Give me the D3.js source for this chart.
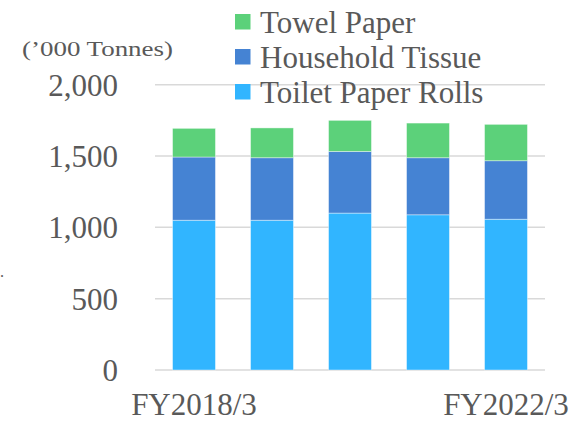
<!DOCTYPE html>
<html>
<head>
<meta charset="utf-8">
<script src="https://cdn.jsdelivr.net/npm/d3@7"></script>
<style>
  body { margin: 0; background: #fff; }
  svg text { font-family: "Liberation Serif", "Times New Roman", serif !important; fill: #595959; }
</style>
</head>
<body>
<script>
// chart data
var years = ["FY2018/3", "FY2019/3", "FY2020/3", "FY2021/3", "FY2022/3"];
var shownYears = ["FY2018/3", "FY2022/3"];
var toiletRolls = [1050, 1050, 1100, 1088, 1057];
var householdTissue = [443, 438, 432, 400, 410];
var towelPaper = [201, 209, 218, 243, 255];
var yTicks = [0, 500, 1000, 1500, 2000];

var seriesNames = ["Toilet Paper Rolls", "Household Tissue", "Towel Paper"];
var seriesColors = ["#31b5ff", "#4583d3", "#5cd17a"];

function draw_chart() {
    var width = 574;
    var height = 421;
    var serif = "'Liberation Serif', 'Times New Roman', serif";

    var svg = d3.select("body").append("svg")
                .attr("width", width)
                .attr("height", height);

    var x = d3.scaleBand()
              .domain(years)
              .range([155, 545])
              .paddingInner(0.45)
              .paddingOuter(0.225);

    var y = d3.scaleLinear()
              .domain([0, 2000])
              .range([370, 84.7]);

    // gridlines
    svg.selectAll("line.grid")
        .data(yTicks)
        .enter()
        .append("line")
        .attr("class", "grid")
        .attr("x1", 155)
        .attr("x2", 545)
        .attr("y1", function(d) { return y(d); })
        .attr("y2", function(d) { return y(d); })
        .attr("stroke", "#d9d9d9")
        .attr("stroke-width", 1.5);

    // y tick labels
    var yAxis = d3.axisLeft(y)
                  .tickValues(yTicks)
                  .tickFormat(d3.format(","))
                  .tickSize(0)
                  .tickPadding(0);
    var yg = svg.append("g")
                .attr("transform", "translate(118,0)")
                .call(yAxis)
                .attr("font-family", serif)
                .attr("font-size", 31);
    yg.select(".domain").remove();
    yg.selectAll("text")
      .style("font-family", serif)
      .style("font-size", "31px")
      .attr("dy", "0.34em");

    // x labels (only first and last)
    var xAxis = d3.axisBottom(x)
                  .tickValues(shownYears)
                  .tickSize(0)
                  .tickPadding(0);
    var xg = svg.append("g")
                .attr("transform", "translate(0,415)")
                .call(xAxis)
                .attr("font-family", serif)
                .attr("font-size", 31);
    xg.select(".domain").remove();
    xg.selectAll("text")
      .style("font-family", serif)
      .style("font-size", "31px")
      .attr("y", 0)
      .attr("dy", "0");

    // stacked bars
    var rows = years.map(function(yr, i) {
        return {
            year: yr,
            "Toilet Paper Rolls": toiletRolls[i],
            "Household Tissue": householdTissue[i],
            "Towel Paper": towelPaper[i]
        };
    });
    var stack = d3.stack().keys(seriesNames)(rows);

    svg.selectAll("g.series")
        .data(stack)
        .enter()
        .append("g")
        .attr("class", "series")
        .attr("fill", function(d, i) { return seriesColors[i]; })
        .selectAll("rect")
        .data(function(d) { return d; })
        .enter()
        .append("rect")
        .attr("x", function(d) { return x(d.data.year); })
        .attr("width", x.bandwidth())
        .attr("y", function(d) { return y(d[1]); })
        .attr("height", function(d) { return y(d[0]) - y(d[1]); })
        .attr("stroke", "rgba(255,255,255,0.5)")
        .attr("stroke-width", 0.8);

    // unit label
    svg.append("text")
        .attr("x", 22)
        .attr("y", 56)
        .attr("textLength", 151)
        .attr("lengthAdjust", "spacingAndGlyphs")
        .style("font-family", serif)
        .style("font-size", "21px")
        .text("(’000 Tonnes)");

    // legend
    var legendOrder = [2, 1, 0];
    var lg = svg.selectAll("g.legend")
                .data(legendOrder)
                .enter()
                .append("g")
                .attr("class", "legend")
                .attr("transform", function(d, i) { return "translate(235," + (14 + i * 35) + ")"; });
    lg.append("rect")
      .attr("width", 15.5)
      .attr("height", 15.5)
      .attr("fill", function(d) { return seriesColors[d]; });
    lg.append("text")
      .attr("x", 25)
      .attr("y", 8)
      .attr("dy", "0.36em")
      .style("font-family", serif)
      .style("font-size", "31px")
      .text(function(d) { return seriesNames[d]; });

    // stray dot at left edge
    svg.append("text")
        .attr("x", 0)
        .attr("y", 277)
        .style("font-family", serif)
        .style("font-size", "16px")
        .text(".");
}

document.addEventListener("DOMContentLoaded", draw_chart());
</script>
</body>
</html>
